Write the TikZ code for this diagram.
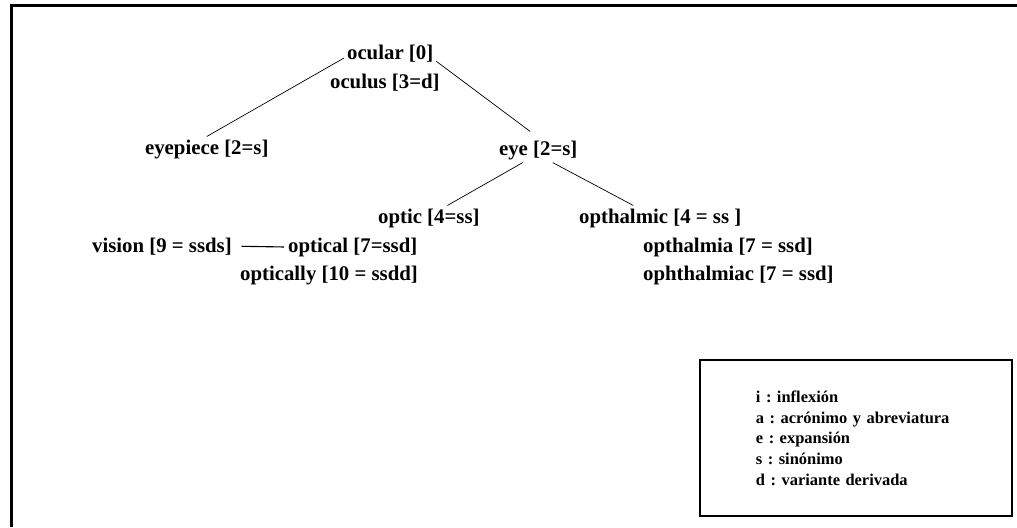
\documentclass[tikz,border=0pt]{standalone}
\usepackage{fontspec}
\setmainfont{Liberation Serif}

\tikzset{
  term/.style={anchor=base west, inner sep=2pt, font=\fontsize{14.8}{17}\selectfont\bfseries},
  branch/.style={line width=0.5pt},
  keybox/.style={draw, line width=2pt, minimum width=7.8cm, minimum height=3.9cm,
    inner xsep=1.4cm, text width=5cm, align=left,
    font=\fontsize{11.7}{14.7}\selectfont\bfseries\frenchspacing},
}

\begin{document}
\begin{tikzpicture}[x=0.025cm, y=-0.025cm]
  \fill [white] (0,0) rectangle (1017,527);
  \useasboundingbox (0,0) rectangle (1017,527);

  % frame: only the top and left edges are on the page
  \draw [line width=2pt] (1017,5.5) -- (11.5,5.5) -- (11.5,527);

  % terms, placed by left edge and baseline
  \node [term] (ocular)      at (344,59)  {ocular [0]};
  \node [term] (oculus)      at (327,88)  {oculus [3=d]};
  \node [term] (eyepiece)    at (142,154) {eyepiece [2=s]};
  \node [term] (eye)         at (496,155) {eye [2=s]};
  \node [term] (optic)       at (375,223) {optic [4=ss]};
  \node [term] (vision)      at (89,252)  {vision [9 = ssds]};
  \node [term] (optical)     at (285,252) {optical [7=ssd]};
  \node [term] (optically)   at (237,280) {optically [10 = ssdd]};
  \node [term] (opthalmic)   at (576,223) {opthalmic [4 = ss ]};
  \node [term] (opthalmia)   at (640,252) {opthalmia [7 = ssd]};
  \node [term] (ophthalmiac) at (640,280) {ophthalmiac [7 = ssd]};

  % tree branches
  \draw [branch] (ocular.186) -- (eyepiece.north);
  \draw [branch, shorten >=0.25cm] (ocular.-10) -- (eye.north);
  \draw [branch] (eye.219) -- (optic.34);
  \draw [branch] (eye.-41) -- (opthalmic.155);
  \draw [line width=0.8pt, shorten <=0.17cm, shorten >=0.02cm] (vision.east) -- (optical.west);

  % key of relation codes
  \node [keybox] (legend) at (856,438) {%
    i : inflexión\\
    a : acrónimo y abreviatura\\
    e : expansión\\
    s : sinónimo\\
    d : variante derivada};
\end{tikzpicture}
\end{document}
